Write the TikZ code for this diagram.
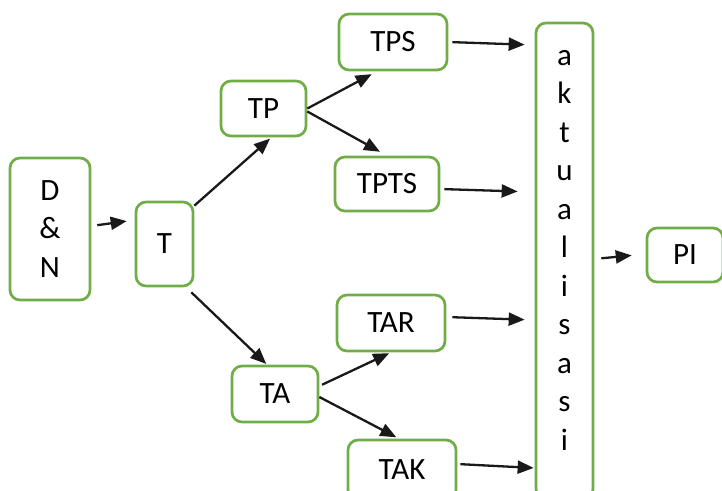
\documentclass[tikz,border=0pt]{standalone}
\usepackage{fontspec}
\setmainfont{Carlito}
\usetikzlibrary{arrows.meta}
\definecolor{boxgreen}{RGB}{112,173,71}
\tikzset{
    box/.style={draw=boxgreen, line width=2.7pt, rounded corners=10pt, align=center,
        inner sep=0pt, font=\fontsize{31}{38.5}\selectfont},
    arr/.style={line width=2.3pt, -{Triangle[length=16pt, width=13pt]}, draw=black!90}
}
\begin{document}
\begin{tikzpicture}[x=1pt, y=-1pt]
    \useasboundingbox (0,0) rectangle (722,490);

    % left part
    \node[box, minimum width=80pt, minimum height=142pt] (dn) at (50,229) {D\\\&\\N};
    \node[box, minimum width=57pt, minimum height=84pt] (t) at (164.5,244) {T};

    % upper branch
    \node[box, minimum width=85pt, minimum height=55pt] (tp) at (263.5,108.5) {TP};
    \node[box, minimum width=108pt, minimum height=56pt] (tps) at (393,42) {TPS};
    \node[box, minimum width=104pt, minimum height=54pt] (tpts) at (387,184) {TPTS};

    % lower branch
    \node[box, minimum width=86pt, minimum height=56pt] (ta) at (275,394) {TA};
    \node[box, minimum width=108pt, minimum height=56pt] (tar) at (391,323) {TAR};
    \node[box, minimum width=108pt, minimum height=60pt] (tak) at (402,470) {TAK};

    % right part
    \node[box, minimum width=57pt, minimum height=476pt, text depth=22pt] (akt) at (564.5,261)
        {a\\k\\t\\u\\a\\l\\i\\s\\a\\s\\i};
    \node[box, minimum width=76pt, minimum height=54pt] (pi) at (685,255) {PI};

    % arrows
    \draw[arr, shorten <=6pt, shorten >=8pt] ([yshift=3pt]dn.east) -- ([yshift=24pt]t.west);
    \draw[arr, shorten >=2pt] ([yshift=-5pt]t.north east) -- ([xshift=8pt]tp.south);
    \draw[arr, shorten >=1pt] ([xshift=-3pt,yshift=-5pt]t.south east) -- ([xshift=-8pt]ta.north);
    \draw[arr, shorten >=6pt] (tp.east) -- ([xshift=-16pt]tps.south);
    \draw[arr, shorten >=8pt] ([yshift=-3pt]tp.east) -- (tpts.north);
    \draw[arr, shorten <=3pt, shorten >=2pt] ([yshift=8pt]ta.east) -- (tar.south);
    \draw[arr, shorten >=3pt] ([yshift=-3pt]ta.east) -- ([xshift=-3pt]tak.north);

    \draw[arr, shorten <=4pt, shorten >=10pt] (tps.east) -- ([yshift=-3pt]tps.east -| akt.west);
    \draw[arr, shorten <=4pt, shorten >=17pt] ([yshift=-5pt]tpts.east) -- ([yshift=-8pt]tpts.east -| akt.west);
    \draw[arr, shorten <=6pt, shorten >=10pt] ([yshift=6pt]tar.east) -- ([yshift=3pt]tar.east -| akt.west);
    \draw[arr, shorten <=3pt, shorten >=1pt] ([yshift=6pt]tak.east) -- ([yshift=2pt]tak.east -| akt.west);
    \draw[arr, shorten <=7pt, shorten >=14pt] ([yshift=2pt]akt.east) -- ([yshift=1pt]pi.west);

\end{tikzpicture}
\end{document}
